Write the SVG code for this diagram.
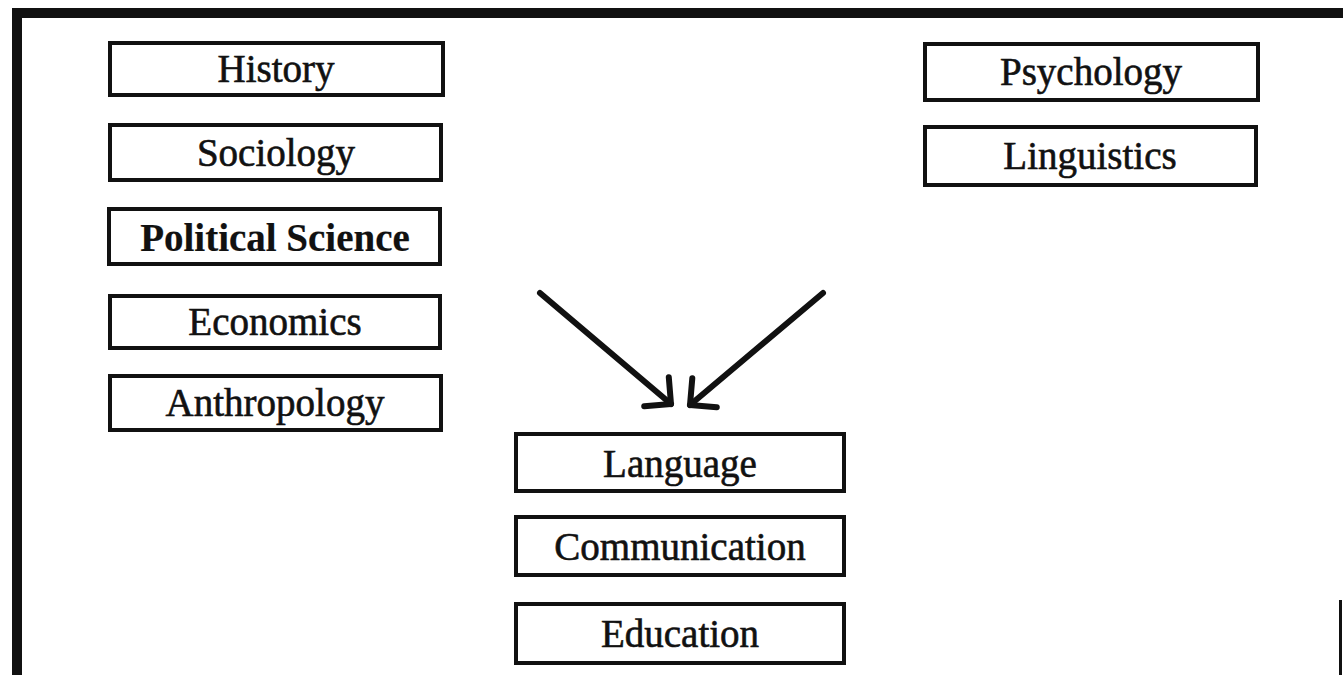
<svg xmlns="http://www.w3.org/2000/svg" width="1343" height="675" viewBox="0 0 1343 675">
<style>
.box{fill:#fff;stroke:#111;stroke-width:4}
.lbl{font-family:"Liberation Serif","Times New Roman",serif;font-size:39px;fill:#111;stroke:#111;stroke-width:0.6;text-anchor:middle}
.b{font-weight:bold;stroke-width:0.2}
.con{stroke:#111;stroke-width:6;fill:none;stroke-linecap:round}
.frame{fill:#111}
</style>
<defs>
<marker id="ah" markerUnits="userSpaceOnUse" markerWidth="60" markerHeight="60" refX="0" refY="0" orient="auto" overflow="visible">
<path d="M-19,-19 L0,0 L-19,19" fill="none" stroke="#111" stroke-width="6" stroke-linecap="round" stroke-linejoin="round"/>
</marker>
</defs>
<rect width="1343" height="675" fill="#fff"/>
<g id="frame">
<rect class="frame" x="12" y="8" width="1331" height="10"/>
<rect class="frame" x="12" y="8" width="10" height="667"/>
<rect class="frame" x="1339" y="600" width="3" height="75"/>
</g>
<g id="n-history"><rect class="box" x="110" y="43" width="333" height="52"/><text class="lbl" x="276" y="82">History</text></g>
<g id="n-sociology"><rect class="box" x="110" y="125" width="331" height="55"/><text class="lbl" x="276" y="166">Sociology</text></g>
<g id="n-polsci"><rect class="box" x="109" y="209" width="331" height="55"/><text class="lbl b" x="275" y="251">Political Science</text></g>
<g id="n-economics"><rect class="box" x="110" y="296" width="330" height="52"/><text class="lbl" x="275" y="335">Economics</text></g>
<g id="n-anthropology"><rect class="box" x="110" y="376" width="331" height="54"/><text class="lbl" x="275" y="416">Anthropology</text></g>
<g id="n-psychology"><rect class="box" x="925" y="44" width="333" height="56"/><text class="lbl" x="1091" y="85">Psychology</text></g>
<g id="n-linguistics"><rect class="box" x="925" y="127" width="331" height="58"/><text class="lbl" x="1090" y="169">Linguistics</text></g>
<g id="n-language"><rect class="box" x="516" y="434" width="328" height="57"/><text class="lbl" x="680" y="477">Language</text></g>
<g id="n-communication"><rect class="box" x="516" y="517" width="328" height="58"/><text class="lbl" x="680" y="560">Communication</text></g>
<g id="n-education"><rect class="box" x="516" y="604" width="328" height="59"/><text class="lbl" x="680" y="647">Education</text></g>
<g id="connectors">
<line class="con" x1="540" y1="293" x2="671" y2="404" marker-end="url(#ah)"/>
<line class="con" x1="823" y1="293" x2="690" y2="405" marker-end="url(#ah)"/>
</g>
</svg>
